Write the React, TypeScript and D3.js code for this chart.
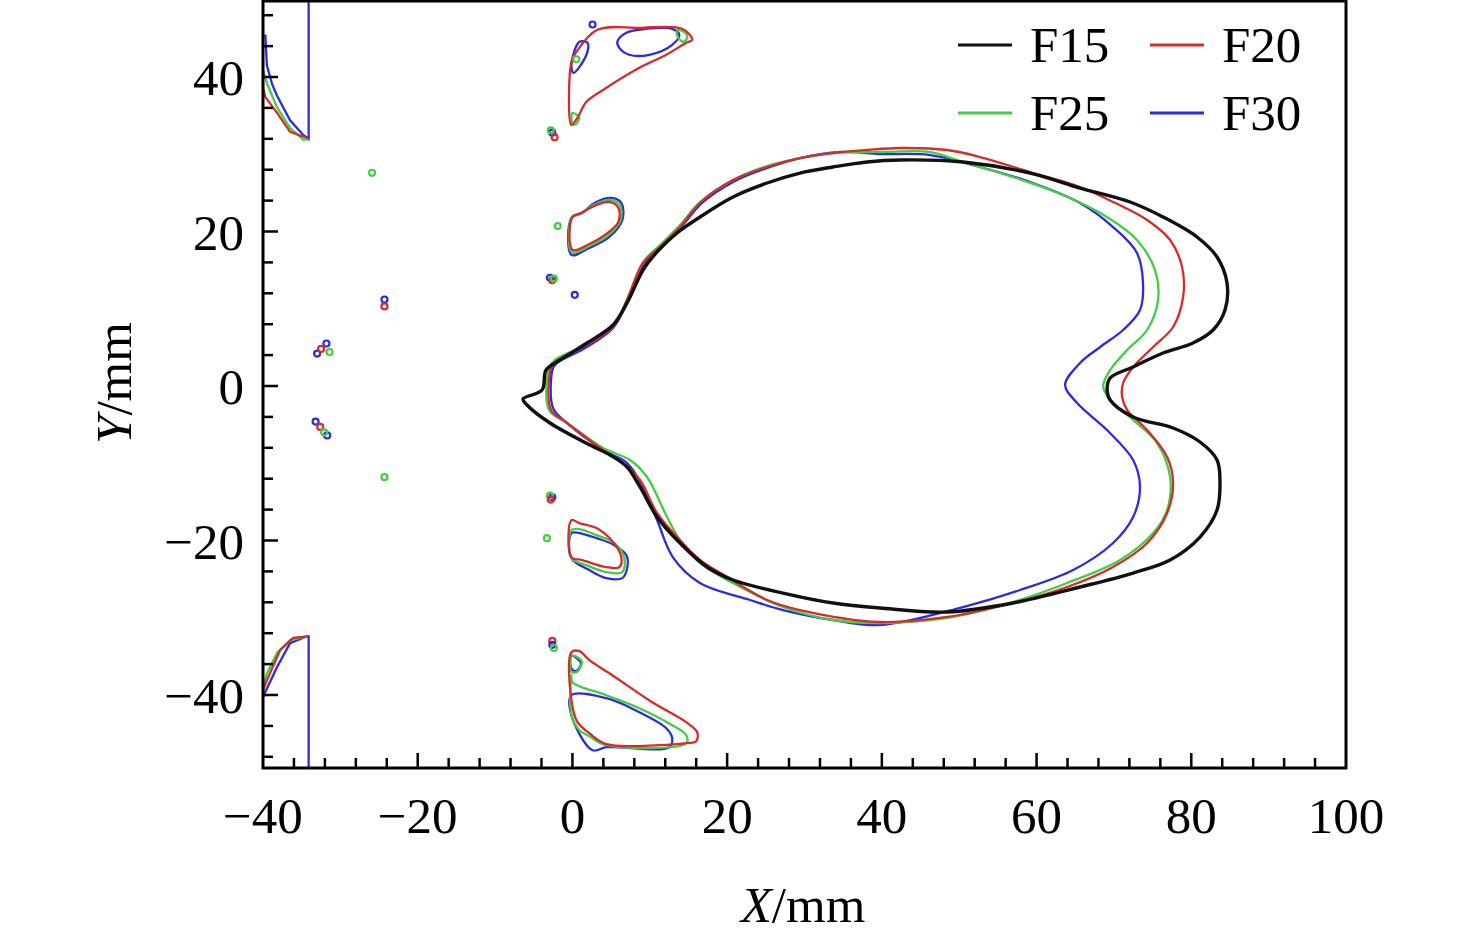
import * as d3 from 'd3'
import React, { useRef, useEffect } from 'react'

type Pt = [number, number]

const seriesNames = ['F15', 'F20', 'F25', 'F30']
const seriesColors = ['#111111', '#d42b2b', '#44cc44', '#2b2be0']

const xTicks = [-40, -20, 0, 20, 40, 60, 80, 100]
const yTicks = [-40, -20, 0, 20, 40]

// main melt-pool contours (X, Y in mm)
const f15Main: Pt[] = [
  [-6.39, -1.68], [-3.93, -0.52], [-3.41, 2.07], [-1.6, 3.37], [1.89, 5.57], [5.25, 7.9],
  [7.06, 10.74], [9.13, 15.02], [10.94, 17.35], [13.52, 19.81], [16.49, 21.88], [20.76, 24.47],
  [25.16, 26.28], [29.42, 27.57], [33.69, 28.35], [38.09, 29.0], [42.36, 29.26], [50.49, 29.0],
  [59.16, 27.57], [65.62, 25.63], [72.09, 23.82], [76.35, 21.88], [80.74, 19.29], [83.33, 16.7],
  [84.62, 13.33], [84.36, 9.84], [82.81, 7.25], [80.22, 5.57], [76.35, 4.27], [72.48, 2.46],
  [69.51, 1.04], [69.12, -0.52], [69.51, -1.81], [72.48, -4.01], [77.65, -5.44], [81.13, -7.25],
  [83.33, -9.58], [83.71, -12.56], [83.33, -16.05], [81.13, -19.55], [77.26, -22.52], [72.48, -24.21],
  [65.62, -26.02], [56.96, -28.09], [48.43, -29.26], [39.76, -28.74], [33.69, -28.09], [27.22, -26.8],
  [20.76, -25.11], [17.4, -23.43], [13.52, -19.94], [10.94, -16.96], [8.74, -13.07], [7.06, -10.49],
  [4.86, -8.93], [2.27, -7.64], [-2.9, -4.79], [-5.87, -2.46],
]

const f20Main: Pt[] = [
  [-2.77, -3.11], [-2.77, 2.33], [-2.25, 3.11], [1.37, 5.05], [5.25, 7.64], [7.06, 11.13],
  [9.13, 15.92], [11.32, 17.99], [13.91, 20.58], [16.49, 23.69], [20.76, 26.67], [25.16, 28.35],
  [29.42, 29.51], [33.69, 30.16], [38.09, 30.55], [42.36, 30.81], [48.43, 30.55], [52.7, 29.64],
  [59.16, 27.7], [65.62, 25.76], [69.89, 23.82], [74.29, 21.49], [77.26, 18.9], [78.81, 15.4],
  [78.94, 11.52], [77.65, 7.64], [75.07, 5.05], [72.48, 2.46], [71.19, 0.39], [71.06, -1.42],
  [71.71, -3.11], [74.29, -5.7], [76.88, -9.19], [77.65, -12.56], [76.88, -16.44], [74.29, -20.32],
  [69.89, -23.43], [63.95, -26.02], [56.96, -28.09], [48.43, -29.9], [39.76, -30.55], [29.42, -29.0],
  [25.16, -27.7], [19.99, -24.72], [16.49, -22.52], [13.52, -19.55], [10.94, -16.44], [8.74, -12.17],
  [6.54, -9.97], [3.96, -8.29], [-0.7, -4.79],
]

const f25Main: Pt[] = [
  [-3.02, -3.11], [-3.02, 2.33], [-2.25, 3.37], [1.37, 5.18], [5.25, 7.77], [7.06, 11.26],
  [9.13, 16.05], [11.32, 18.25], [13.91, 20.84], [16.49, 23.82], [20.76, 26.67], [25.16, 28.48],
  [29.42, 29.51], [33.69, 30.16], [39.76, 30.29], [46.22, 30.29], [50.49, 29.0], [56.96, 27.05],
  [63.42, 24.72], [69.1, 21.88], [72.98, 18.9], [75.31, 15.02], [75.7, 11.13], [74.28, 7.25],
  [71.71, 4.66], [69.51, 2.07], [68.61, 0.0], [69.51, -1.81], [72.48, -4.4], [75.57, -7.38],
  [77.26, -11.78], [76.88, -16.05], [75.07, -19.03], [70.8, -22.52], [63.95, -25.5], [56.96, -27.96],
  [48.43, -30.03], [39.76, -30.68], [33.69, -30.29], [27.22, -28.61], [20.76, -25.5], [16.49, -22.91],
  [13.91, -19.94], [12.23, -16.96], [9.64, -11.78], [7.45, -9.58], [3.96, -8.03], [-0.7, -4.79],
]

const f30Main: Pt[] = [
  [-2.51, -2.85], [-2.51, 2.33], [-1.99, 2.98], [1.63, 4.92], [5.25, 7.51], [7.19, 11.13],
  [9.38, 15.92], [11.58, 18.12], [14.17, 20.71], [16.75, 23.69], [21.02, 26.54], [25.54, 28.35],
  [29.42, 29.51], [34.59, 30.29], [39.76, 30.03], [46.22, 29.9], [52.7, 28.35], [59.16, 26.41],
  [65.62, 23.69], [69.89, 20.58], [72.98, 17.22], [73.76, 13.33], [73.37, 9.84], [71.19, 7.25],
  [68.22, 5.05], [65.62, 2.98], [63.69, 0.13], [65.24, -2.2], [69.1, -5.7], [72.48, -9.58],
  [73.37, -13.07], [72.48, -16.96], [69.89, -20.32], [64.73, -23.82], [57.87, -26.41], [50.49, -28.61],
  [39.76, -30.94], [33.69, -30.29], [27.22, -29.0], [22.96, -27.7], [16.49, -25.5], [12.97, -22.14],
  [10.94, -17.35], [9.13, -13.07], [7.06, -9.97], [3.96, -8.29], [-0.7, -4.79],
]

// closed islands beside the pool
const f20Islands: Pt[][] = [
  [[-0.13, 33.81], [-0.13, 41.97], [0.52, 43.26], [3.23, 46.11], [8.65, 46.37], [14.19, 46.24],
    [15.48, 44.82], [14.71, 44.43], [12.13, 42.88], [8.65, 41.19], [4.39, 38.6], [1.81, 36.79], [0.65, 34.72]],
  [[0.0, 21.89], [0.0, 17.62], [2.19, 18.39], [4.39, 19.69], [5.94, 21.24], [5.94, 23.06],
    [4.77, 23.83], [2.84, 23.32], [1.16, 22.41]],
  [[-0.13, -17.36], [-0.13, -22.15], [1.29, -22.54], [4.39, -23.45], [6.06, -23.45], [6.32, -22.15],
    [5.03, -19.95], [3.1, -18.39], [0.9, -17.75]],
  [[-0.13, -34.46], [0.9, -34.33], [2.19, -35.49], [5.16, -37.44], [10.32, -40.93], [14.71, -43.52],
    [16.13, -44.82], [16.0, -45.98], [14.71, -46.24], [11.23, -46.5], [4.39, -46.37], [2.19, -44.95],
    [0.65, -43.52], [-0.13, -40.67]],
]

const f25Islands: Pt[][] = [
  [[13.55, 46.11], [14.58, 45.73], [14.84, 45.08], [14.32, 44.56], [13.6, 45.2]],
  [[0.0, 35.36], [0.9, 34.72], [0.26, 33.81], [-0.1, 34.4]],
  [[-0.06, 21.82], [-0.06, 17.3], [2.19, 18.12], [4.58, 19.5], [6.2, 21.37], [6.13, 23.38],
    [4.9, 24.1], [2.84, 23.5], [1.22, 22.41]],
  [[-0.13, -18.65], [-0.13, -22.28], [1.81, -23.19], [4.39, -24.09], [6.45, -24.09], [6.71, -22.28],
    [5.42, -20.34], [3.1, -19.3], [0.9, -18.52]],
  [[-0.13, -34.9], [1.2, -35.6], [0.6, -37.0], [-0.13, -37.0]],
  [[-0.13, -37.44], [0.0, -38.34], [4.39, -40.03], [8.65, -41.71], [12.9, -43.91], [14.71, -45.21],
    [14.71, -46.24], [4.39, -46.5], [2.19, -45.34], [0.9, -44.56], [-0.13, -42.6]],
]

const f30Islands: Pt[][] = [
  [[5.81, 44.56], [6.97, 45.73], [9.55, 46.24], [12.9, 46.24], [13.81, 45.47], [12.9, 44.17],
    [9.94, 42.88], [7.35, 42.88], [6.06, 43.78]],
  [[-0.13, 41.58], [0.9, 44.56], [1.94, 44.43], [1.81, 42.88], [0.13, 40.54]],
  [[-0.13, 21.76], [-0.13, 16.97], [2.19, 17.88], [4.77, 19.3], [6.45, 21.5], [6.32, 23.7],
    [5.03, 24.35], [2.84, 23.7], [1.29, 22.41]],
  [[-0.13, -19.04], [-0.13, -22.28], [2.19, -23.83], [4.39, -24.87], [6.45, -24.87], [7.1, -23.45],
    [6.97, -21.89], [5.42, -20.6], [3.1, -19.69], [0.9, -19.04]],
  [[-0.13, -34.9], [1.1, -35.9], [0.5, -36.9], [-0.13, -36.6]],
  [[-0.13, -40.03], [4.39, -40.41], [8.65, -42.23], [12.13, -44.3], [12.9, -45.6], [12.52, -46.76],
    [4.39, -46.76], [2.58, -47.15], [-0.13, -42.62]],
]

// open curves running off the left edge
const f20Edges: Pt[][] = [
  [[-40.3, 38.9], [-40, 38.6], [-39.7, 37.4], [-38.2, 35.4], [-36.5, 32.9], [-34.3, 32.1]],
  [[-40.3, -39.9], [-40, -39.4], [-39.5, -38.1], [-37.8, -34.2], [-36.1, -32.6], [-34.2, -32.4]],
]
const f25Edges: Pt[][] = [
  [[-40.3, 41.3], [-40, 40.9], [-39.5, 39.2], [-38.2, 36.1], [-36.5, 33.4], [-34.8, 31.9], [-34.1, 31.9]],
  [[-40.3, -39.5], [-40, -39.1], [-39.5, -37.2], [-38.2, -34.6], [-36.5, -32.9], [-34.3, -32.4]],
]
const f30Edges: Pt[][] = [
  [[-39.7, 45.5], [-39.5, 41.5], [-38.8, 39.0], [-38.2, 37.6], [-36.5, 34.4],
    [-34.8, 32.5], [-34.1, 32.0], [-34.1, 51]],
  [[-39.9, -40.2], [-39.7, -39.6], [-38.2, -36.4], [-36.5, -33.3], [-34.3, -32.4], [-34.1, -32.4], [-34.1, -51]],
]

// isolated specks: [series index, X, Y]
const specks: [number, number, number][] = [
  [2, -25.9, 27.6], [3, -24.3, 11.2], [1, -24.3, 10.3],
  [3, -33.0, 4.2], [3, -31.8, 5.5], [1, -32.5, 4.8], [2, -31.4, 4.4],
  [3, -33.2, -4.6], [1, -32.6, -5.3], [3, -31.7, -6.4], [2, -32.1, -6.0],
  [2, -24.3, -11.8], [2, -1.9, 20.7], [2, 0.5, 42.3], [3, 2.6, 46.8],
  [3, -2.6, 32.8], [2, -2.8, 33.1], [1, -2.3, 32.2],
  [3, -2.9, 14.0], [1, -2.6, 13.7], [2, -2.4, 13.9], [3, 0.3, 11.8],
  [3, -2.6, -14.4], [2, -2.9, -14.2], [1, -2.8, -14.7], [2, -3.3, -19.7],
  [1, -2.6, -33.0], [3, -2.6, -33.5], [2, -2.4, -33.9],
]

const mainContours = [f15Main, f20Main, f25Main, f30Main]
const islandSets = [[], f20Islands, f25Islands, f30Islands]
const edgeSets = [[], f20Edges, f25Edges, f30Edges]

const W = 1476
const H = 940
const FONT = '"Liberation Serif", "Times New Roman", serif'

const App = () => {
  const ref = useRef<SVGSVGElement | null>(null)

  useEffect(() => {
    const svg = d3.select(ref.current)
    svg.selectAll('*').remove()

    const left = 263
    const right = 1346
    const top = 1
    const bottom = 768
    const x = d3.scaleLinear().domain([-40, 100]).range([left, right])
    const y = d3.scaleLinear().domain([-49.45, 49.84]).range([bottom, top])

    svg.append('defs').append('clipPath').attr('id', 'plot-clip')
      .append('rect')
      .attr('x', left).attr('y', top)
      .attr('width', right - left).attr('height', bottom - top)

    const plot = svg.append('g').attr('clip-path', 'url(#plot-clip)')

    const closed: any = d3.line<Pt>().x(d => x(d[0])).y(d => y(d[1])).curve(d3.curveCatmullRomClosed.alpha(0.5))
    const open: any = d3.line<Pt>().x(d => x(d[0])).y(d => y(d[1])).curve(d3.curveLinear)

    // draw coloured series first, black on top
    const order = [3, 2, 1, 0]
    order.forEach(i => {
      const width = i === 0 ? 3.4 : 2.3
      edgeSets[i].forEach((pts: Pt[]) => {
        plot.append('path').attr('d', open(pts)).attr('fill', 'none')
          .attr('stroke', seriesColors[i]).attr('stroke-width', width)
      })
      islandSets[i].forEach((pts: Pt[]) => {
        plot.append('path').attr('d', closed(pts)).attr('fill', 'none')
          .attr('stroke', seriesColors[i]).attr('stroke-width', width)
      })
      plot.append('path').attr('d', closed(mainContours[i])).attr('fill', 'none')
        .attr('stroke', seriesColors[i]).attr('stroke-width', width)
        .attr('stroke-linejoin', 'round')
    })

    plot.selectAll('.speck')
      .data(specks)
      .enter().append('circle')
      .attr('cx', d => x(d[1]))
      .attr('cy', d => y(d[2]))
      .attr('r', 3)
      .attr('fill', 'none')
      .attr('stroke', d => seriesColors[d[0]])
      .attr('stroke-width', 2.2)

    // ticks, inward, left and bottom only
    const axes = svg.append('g').attr('stroke', '#000')
    d3.range(-48, 50, 4).forEach(v => {
      const major = v % 20 === 0
      axes.append('line').attr('x1', left).attr('x2', left + (major ? 15 : 10))
        .attr('y1', y(v)).attr('y2', y(v)).attr('stroke-width', 2.5)
    })
    d3.range(-36, 100, 4).forEach(v => {
      const major = v % 20 === 0
      axes.append('line').attr('y1', bottom).attr('y2', bottom - (major ? 15 : 10))
        .attr('x1', x(v)).attr('x2', x(v)).attr('stroke-width', 2.5)
    })

    svg.append('rect')
      .attr('x', left).attr('y', top)
      .attr('width', right - left).attr('height', bottom - top)
      .attr('fill', 'none').attr('stroke', '#000').attr('stroke-width', 3)

    const fmt = (v: number) => (v < 0 ? '\u2212' + Math.abs(v) : String(v))

    svg.selectAll('.xt')
      .data(xTicks)
      .enter().append('text')
      .attr('x', d => x(d))
      .attr('y', 833)
      .attr('text-anchor', 'middle')
      .style('font-family', FONT)
      .style('font-size', '51px')
      .text(d => fmt(d))

    svg.selectAll('.yt')
      .data(yTicks)
      .enter().append('text')
      .attr('x', 244)
      .attr('y', d => y(d) + 18)
      .attr('text-anchor', 'end')
      .style('font-family', FONT)
      .style('font-size', '51px')
      .text(d => fmt(d))

    const xl = svg.append('text')
      .attr('x', 803).attr('y', 922)
      .attr('text-anchor', 'middle')
      .style('font-family', FONT)
      .style('font-size', '51px')
    xl.append('tspan').style('font-style', 'italic').text('X')
    xl.append('tspan').text('/mm')

    const yl = svg.append('text')
      .attr('transform', 'translate(131, 383) rotate(-90)')
      .attr('text-anchor', 'middle')
      .style('font-family', FONT)
      .style('font-size', '51px')
    yl.append('tspan').style('font-style', 'italic').text('Y')
    yl.append('tspan').text('/mm')

    // legend, two columns
    const legendX = [958, 1150]
    const legendY = [45, 113]
    seriesNames.forEach((name, i) => {
      const lx = legendX[i % 2]
      const ly = legendY[Math.floor(i / 2)]
      svg.append('line')
        .attr('x1', lx).attr('x2', lx + 54)
        .attr('y1', ly).attr('y2', ly)
        .attr('stroke', seriesColors[i]).attr('stroke-width', 3)
      svg.append('text')
        .attr('x', lx + 72).attr('y', ly + 17)
        .style('font-family', FONT)
        .style('font-size', '51px')
        .text(name)
    })
  }, [])

  return (
    <svg ref={ref} width={W} height={H} style={{ position: 'absolute', left: 0, top: 0, background: '#fff' }} />
  )
}

export default App
